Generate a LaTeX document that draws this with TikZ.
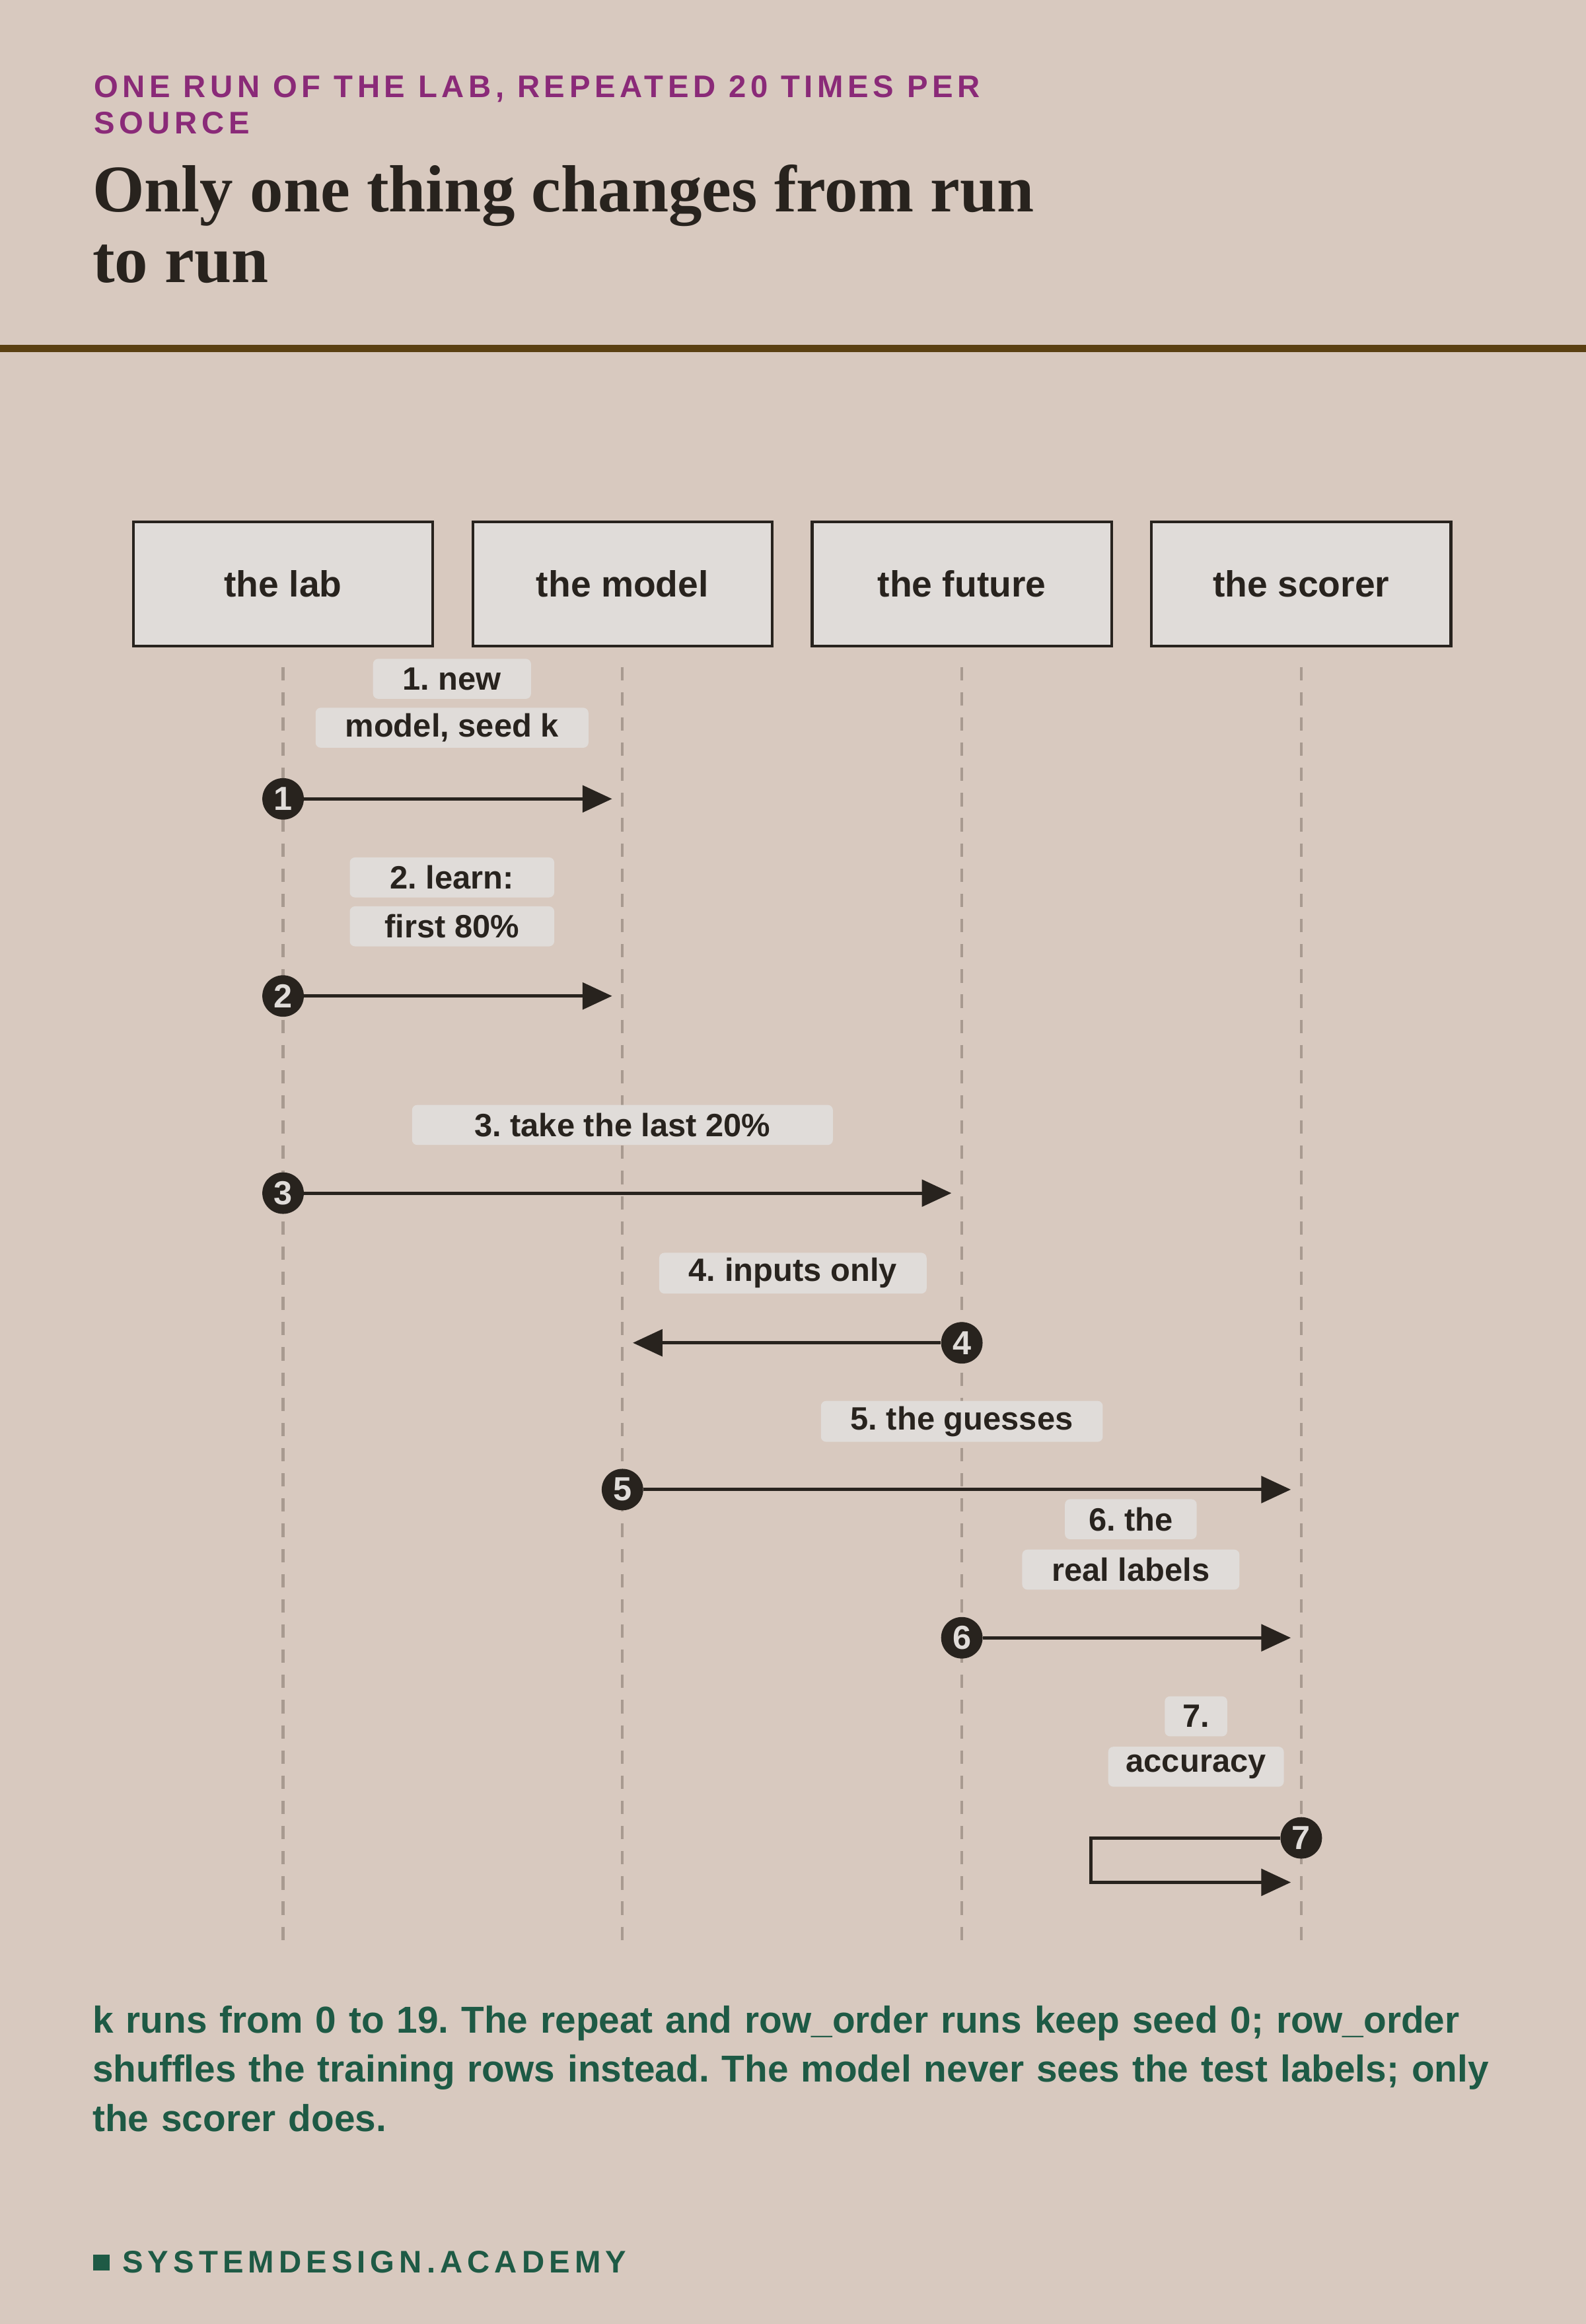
\documentclass[tikz,border=0pt]{standalone}
\usepackage{fontspec}
\setmainfont{Liberation Serif}
\setsansfont{Liberation Sans}
\usetikzlibrary{arrows.meta, positioning}
\definecolor{bgpaper}{HTML}{D8C9BF}
\definecolor{chipfill}{HTML}{E0DCD9}
\definecolor{inkdark}{HTML}{28231E}
\definecolor{kicker}{HTML}{8A2A78}
\definecolor{rulebrown}{HTML}{5A4012}
\definecolor{lifegray}{HTML}{A89A90}
\definecolor{notegreen}{HTML}{1E5A45}
\tikzset{
  actor/.style={draw=inkdark, line width=2.6pt, fill=chipfill, minimum width=10.1cm, minimum height=4.2cm, font=\sffamily\fontsize{35}{38}\selectfont\bfseries, text=inkdark},
  chip/.style={fill=chipfill, rounded corners=5pt, inner xsep=1cm, inner ysep=0.18cm, minimum height=1.35cm, font=\sffamily\fontsize{31}{35}\selectfont\bfseries, text=inkdark},
  stepdot/.style={circle, fill=inkdark, inner sep=0pt, minimum size=1.4cm, font=\sffamily\fontsize{32}{32}\selectfont\bfseries, text=chipfill},
  msg/.style={draw=inkdark, line width=3.2pt, -{Triangle[length=1cm, width=0.9cm]}},
  life/.style={draw=lifegray, line width=2.6pt, dash pattern=on 0.45cm off 0.4cm}
}
\frenchspacing
\begin{document}
\begin{tikzpicture}[x=0.05cm, y=-0.05cm]
    \fill[bgpaper] (0,0) rectangle (1070,1568);
    \useasboundingbox (0,0) rectangle (1070,1568);

    % header
    \node[anchor=west, text=kicker, font=\sffamily\fontsize{30}{34}\selectfont\bfseries\addfontfeatures{LetterSpace=14}] (kick1) at (61,60) {ONE RUN OF THE LAB, REPEATED 20 TIMES PER};
    \node[anchor=west, text=kicker, font=\sffamily\fontsize{30}{34}\selectfont\bfseries\addfontfeatures{LetterSpace=14}] (kick2) at (61,83) {SOURCE};
    \node[anchor=west, text=inkdark, font=\fontsize{64}{68}\selectfont\bfseries] (title1) at (60,132) {Only one thing changes from run};
    \node[anchor=west, text=inkdark, font=\fontsize{64}{68}\selectfont\bfseries] (title2) at (60,178) {to run};
    \fill[rulebrown] (0,232.5) rectangle (1070,237.5);

    % actors and lifelines
    \foreach \n/\x/\t in {lab/191/the lab, model/420/the model, future/649/the future, scorer/878/the scorer} {
        \draw[life] (\x,450) -- (\x,1310);
        \node[actor] (\n) at (\x,394) {\t};
    }

    % 1
    \node[chip] (l1a) at (305,458) {1. new};
    \node[chip] (l1b) at (305,491) {model, seed k};
    \node[stepdot] (c1) at (191,539) {1};
    \coordinate (e1) at (413,539);
    \draw[msg] (c1) -- (e1);

    % 2
    \node[chip, minimum width=6.9cm] (l2a) at (305,592) {2. learn:};
    \node[chip, minimum width=6.9cm] (l2b) at (305,625) {first 80\%};
    \node[stepdot] (c2) at (191,672) {2};
    \coordinate (e2) at (413,672);
    \draw[msg] (c2) -- (e2);

    % 3
    \node[chip, minimum width=14.2cm] (l3) at (420,759) {3. take the last 20\%};
    \node[stepdot] (c3) at (191,805) {3};
    \coordinate (e3) at (642,805);
    \draw[msg] (c3) -- (e3);

    % 4
    \node[chip] (l4) at (535,859) {4. inputs only};
    \node[stepdot] (c4) at (649,906) {4};
    \coordinate (e4) at (427,906);
    \draw[msg] (c4) -- (e4);

    % 5
    \node[chip] (l5) at (649,959) {5. the guesses};
    \node[stepdot] (c5) at (420,1005) {5};
    \coordinate (e5) at (871,1005);
    \draw[msg] (c5) -- (e5);

    % 6
    \node[chip, inner xsep=0.8cm] (l6a) at (763,1025) {6. the};
    \node[chip] (l6b) at (763,1059) {real labels};
    \node[stepdot] (c6) at (649,1105) {6};
    \coordinate (e6) at (871,1105);
    \draw[msg] (c6) -- (e6);

    % 7
    \node[chip, inner xsep=0.6cm] (l7a) at (807,1158) {7.};
    \node[chip, inner xsep=0.6cm] (l7b) at (807,1192) {accuracy};
    \node[stepdot] (c7) at (878,1240) {7};
    \coordinate (e7) at (871,1270);
    \draw[msg] (c7) -- (736,1240) |- (e7);

    % footer
    \node[anchor=north west, align=left, text=notegreen, text width=48cm, font=\sffamily\fontsize{36}{47}\selectfont\bfseries] (note) at (60,1351) {k runs from 0 to 19. The repeat and row\_order runs keep seed 0; row\_order shuffles the training rows instead. The model never sees the test labels; only the scorer does.};
    \fill[notegreen] (63,1521) rectangle (74,1532);
    \node[anchor=west, text=notegreen, font=\sffamily\fontsize{30}{34}\selectfont\bfseries\addfontfeatures{LetterSpace=15}] (brand) at (80,1526) {SYSTEMDESIGN.ACADEMY};
\end{tikzpicture}
\end{document}
